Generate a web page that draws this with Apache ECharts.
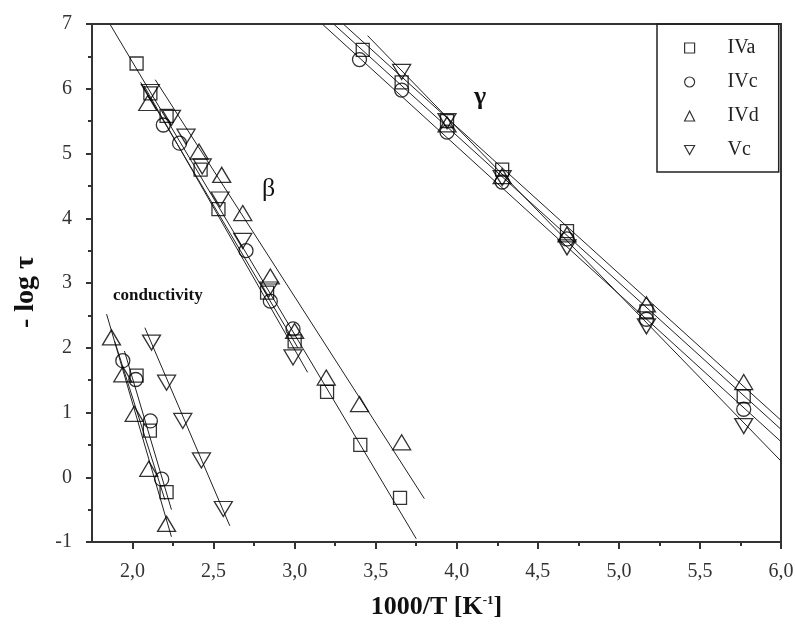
<!DOCTYPE html>
<html>
<head>
<meta charset="utf-8">
<script src="https://cdn.jsdelivr.net/npm/echarts@6/dist/echarts.min.js"></script>
<style>
html,body{margin:0;padding:0;background:#fff;}
#chart{width:795px;height:629px;}
</style>
</head>
<body>
<div id="chart"></div>
<script>
// ---- data ----
var seriesNames = ['IVa', 'IVc', 'IVd', 'Vc'];

var pointsIVa = [
  [2.025, 6.39], [2.11, 5.93], [2.21, 5.58], [2.42, 4.75], [2.53, 4.14], [2.83, 2.85], [3.0, 2.1], [3.2, 1.32], [3.405, 0.5], [3.65, -0.32],
  [3.42, 6.6], [3.66, 6.1], [3.94, 5.5], [4.28, 4.75], [4.68, 3.8], [5.17, 2.56], [5.77, 1.25],
  [2.025, 1.57], [2.107, 0.72], [2.21, -0.23]
];
var pointsIVc = [
  [2.19, 5.44], [2.29, 5.16], [2.7, 3.5], [2.85, 2.72], [2.99, 2.29],
  [3.40, 6.45], [3.66, 5.98], [3.94, 5.33], [4.28, 4.56], [4.68, 3.68], [5.17, 2.44], [5.77, 1.05],
  [1.94, 1.8], [2.02, 1.51], [2.11, 0.87], [2.18, -0.03]
];
var pointsIVd = [
  [2.094, 5.78], [2.41, 5.03], [2.55, 4.67], [2.68, 4.08], [2.85, 3.1], [3.0, 2.26], [3.195, 1.54], [3.40, 1.13], [3.66, 0.54],
  [3.94, 5.45], [4.28, 4.65], [4.68, 3.75], [5.17, 2.67], [5.77, 1.47],
  [1.87, 2.16], [1.94, 1.59], [2.01, 0.98], [2.10, 0.13], [2.21, -0.72]
];
var pointsVc = [
  [2.11, 5.95], [2.24, 5.55], [2.33, 5.26], [2.43, 4.8], [2.54, 4.29], [2.68, 3.65], [2.84, 2.9], [2.99, 1.85],
  [3.66, 6.26], [3.94, 5.5], [4.28, 4.62], [4.68, 3.55], [5.17, 2.33], [5.77, 0.79],
  [2.117, 2.08], [2.21, 1.46], [2.31, 0.87], [2.425, 0.26], [2.56, -0.49]
];

// fitted straight lines (end points)
var fitGammaIVa = [[3.24, 7.0], [6.0, 0.74]];
var fitGammaIVc = [[3.17, 7.0], [6.0, 0.55]];
var fitGammaIVd = [[3.30, 7.0], [6.0, 0.88]];
var fitGammaVc  = [[3.45, 6.82], [6.0, 0.25]];
var fitBetaIVa  = [[1.86, 7.0], [3.75, -0.95]];
var fitBetaIVc  = [[2.05, 6.1], [3.02, 2.0]];
var fitBetaIVd  = [[2.14, 6.14], [3.80, -0.33]];
var fitBetaVc   = [[2.07, 6.05], [3.08, 1.62]];
var fitCondIVa  = [[1.95, 1.95], [2.24, -0.5]];
var fitCondIVc  = [[1.89, 2.1], [2.2, -0.35]];
var fitCondIVd  = [[1.84, 2.52], [2.24, -0.92]];
var fitCondVc   = [[2.076, 2.31], [2.60, -0.75]];

var xMajorTicks = [2.0, 2.5, 3.0, 3.5, 4.0, 4.5, 5.0, 5.5, 6.0];
var xMinorTicks = [2.25, 2.75, 3.25, 3.75, 4.25, 4.75, 5.25, 5.75];
var yTicks = [-1, 0, 1, 2, 3, 4, 5, 6, 7];

// ---- chart ----
var FONT = '"Liberation Serif", "DejaVu Serif", serif';
var chart = echarts.init(document.getElementById('chart'), null, {renderer: 'canvas'});

var markerStyle = {color: 'transparent', borderColor: '#000', borderWidth: 1.3};
function scatter(name, data, symbol, size, rotate) {
  return {
    name: name, type: 'scatter', data: data, symbol: symbol, symbolSize: size,
    symbolRotate: rotate || 0, itemStyle: markerStyle, z: 5, silent: true
  };
}
function fit(data) {
  return {
    type: 'line', data: data, symbol: 'none', silent: true, z: 3,
    lineStyle: {color: '#222', width: 1}
  };
}

var fits = [fitGammaIVa, fitGammaIVc, fitGammaIVd, fitGammaVc,
            fitBetaIVa, fitBetaIVc, fitBetaIVd, fitBetaVc,
            fitCondIVa, fitCondIVc, fitCondIVd, fitCondVc];

var series = [
  scatter('IVa', pointsIVa, 'rect', 13),
  scatter('IVc', pointsIVc, 'circle', 14),
  scatter('IVd', pointsIVd, 'triangle', [18, 15]),
  scatter('Vc', pointsVc, 'triangle', [18, 15], 180)
].concat(fits.map(fit));

var option = {
  backgroundColor: '#fff',
  animation: false,
  grid: {left: 92, right: 14, top: 24, bottom: 87, outerBoundsMode: 'none', containLabel: false,
    show: true, borderColor: '#333', borderWidth: 2, backgroundColor: 'transparent'},
  legend: {
    left: 657, top: 24, orient: 'vertical',
    borderColor: '#222', borderWidth: 1.5, borderRadius: 0,
    padding: [14, 20, 12, 27], itemGap: 14,
    itemWidth: 10, itemHeight: 10,
    itemStyle: {color: 'transparent', borderColor: '#000', borderWidth: 1.2},
    textStyle: {fontFamily: FONT, fontSize: 20, color: '#222', padding: [0, 0, 0, 28]},
    data: [
      {name: 'IVa', icon: 'rect'},
      {name: 'IVc', icon: 'circle'},
      {name: 'IVd', icon: 'triangle'},
      {name: 'Vc', icon: 'path://M0,0L10,0L5,9Z'}
    ],
    selectedMode: false
  },
  xAxis: [{
    type: 'value', min: 1.75, max: 6,
    axisLine: {onZero: false, lineStyle: {color: '#333', width: 2}},
    axisTick: {customValues: xMajorTicks, length: 7, lineStyle: {color: '#333', width: 2}},
    axisLabel: {customValues: xMajorTicks, margin: 20, fontFamily: FONT, fontSize: 20, color: '#333',
      formatter: function (v) { return v.toFixed(1).replace('.', ','); }},
    splitLine: {show: false},
    name: '1000/T [K{sup|-1}]', nameLocation: 'middle', nameGap: 52,
    nameTextStyle: {fontFamily: FONT, fontSize: 26, fontWeight: 'bold', color: '#111',
      rich: {sup: {fontFamily: FONT, fontSize: 13, fontWeight: 'bold', color: '#111', verticalAlign: 'top', padding: [0, 0, 12, 0]}}}
  }, {
    type: 'value', min: 1.75, max: 6, position: 'bottom',
    axisLine: {show: false, onZero: false},
    axisTick: {customValues: xMinorTicks, length: 4, lineStyle: {color: '#333', width: 2}},
    axisLabel: {show: false},
    splitLine: {show: false}
  }],
  yAxis: {
    type: 'value', min: -1, max: 7, interval: 1,
    axisLine: {show: true, onZero: false, lineStyle: {color: '#333', width: 2}},
    axisTick: {show: true, length: 6, lineStyle: {color: '#333', width: 2}},
    minorTick: {show: true, splitNumber: 2, length: 4, lineStyle: {color: '#333', width: 2}},
    axisLabel: {margin: 20, fontFamily: FONT, fontSize: 20, color: '#333'},
    splitLine: {show: false}
  },
  graphic: [
    {type: 'text', left: 12, top: 256, rotation: Math.PI / 2,
      style: {text: '- log τ', font: 'bold 28px ' + FONT, fill: '#111'}},
    {type: 'text', x: 262, y: 176, style: {text: 'β', font: '26px ' + FONT, fill: '#111'}},
    {type: 'text', x: 474, y: 84, style: {text: 'γ', font: 'bold 26px ' + FONT, fill: '#111'}},
    {type: 'text', x: 113, y: 287, style: {text: 'conductivity', font: 'bold 17px ' + FONT, fill: '#111'}}
  ],
  series: series
};
chart.setOption(option);
</script>
</body>
</html>
